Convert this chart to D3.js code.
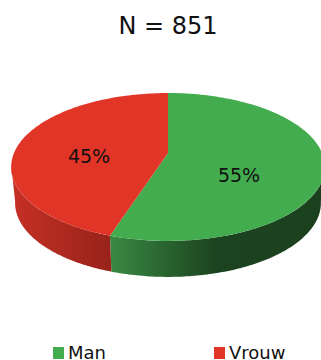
<!DOCTYPE html>
<html>
<head>
<meta charset="utf-8">
<script src="https://cdn.jsdelivr.net/npm/d3@7"></script>
<style>
html,body{margin:0;padding:0;background:#fff}
svg{display:block}
text{font-family:"DejaVu Sans",sans-serif;fill:#111}
</style>
</head>
<body>
<svg id="c" width="321" height="360"></svg>
<script>
const title = "N = 851";
const categories = ["Man", "Vrouw"];
const values = [55, 45];
const labels = ["55%", "45%"];
const colors = ["#43ac4f", "#e13527"];

const svg = d3.select("#c");
const cx = 168, cy = 153, sx = 154, sy = 71.3, k = 0.189, depth = 36, baseScale = 0.975;

// perspective view of the flat pie disc
const project = (a, r = 1) => {
  const u = r * Math.sin(a), v = -r * Math.cos(a), w = 1 - k * v;
  return [cx + sx * u / w, cy + sy * v / w];
};
const arcs = d3.pie().sort(null).value(d => d)(values);
const line = d3.line();
const samples = (a0, a1) => d3.range(0, 121).map(i => a0 + (a1 - a0) * i / 120);

const defs = svg.append("defs");
const grad = (id, x1, x2, stops) => {
  const g = defs.append("linearGradient").attr("id", id)
    .attr("gradientUnits", "userSpaceOnUse")
    .attr("x1", x1).attr("x2", x2).attr("y1", 0).attr("y2", 0);
  stops.forEach(s => g.append("stop").attr("offset", s[0]).attr("stop-color", s[1]));
};
grad("wall0", 109, 325, [[0, "#3a8b43"], [0.25, "#2a6530"], [0.5, "#1c431f"], [1, "#1b401e"]]);
grad("wall1", 11, 110, [[0, "#c63025"], [1, "#98231a"]]);

// side walls: only the front half of the rim is visible
const rimLimit = Math.PI / 2 + Math.asin(k);
arcs.forEach((d, i) => {
  const a0 = Math.max(d.startAngle, rimLimit - 0.02);
  const a1 = Math.min(d.endAngle, 2 * Math.PI - rimLimit + 0.02);
  const top = samples(a0, a1).map(a => project(a));
  const bottom = top.map(p => [cx + (p[0] - cx) * baseScale, p[1] + depth]).reverse();
  svg.append("path").attr("d", line(top.concat(bottom)) + "Z")
    .attr("fill", `url(#wall${i})`);
});

// top faces
arcs.forEach((d, i) => {
  const pts = [[cx, cy]].concat(samples(d.startAngle, d.endAngle).map(a => project(a)));
  svg.append("path").attr("d", line(pts) + "Z").attr("fill", colors[i]);
});

// slice labels
const labelPos = [[239, 182], [89, 163]];
svg.selectAll("text.lab").data(labels).join("text").attr("class", "lab")
  .attr("x", (d, i) => labelPos[i][0]).attr("y", (d, i) => labelPos[i][1])
  .attr("text-anchor", "middle").attr("font-size", 19).text(d => d);

svg.append("text").attr("x", 168).attr("y", 34).attr("text-anchor", "middle")
  .attr("font-size", 24).text(title);

// legend
const legendX = [53, 214];
categories.forEach((c, i) => {
  svg.append("rect").attr("x", legendX[i]).attr("y", 347).attr("width", 11).attr("height", 12)
    .attr("fill", colors[i]);
  svg.append("text").attr("x", legendX[i] + 15).attr("y", 359).attr("font-size", 18).text(c);
});
</script>
</body>
</html>
